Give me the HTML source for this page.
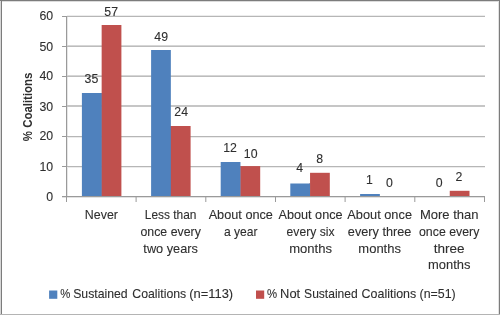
<!DOCTYPE html>
<html><head><meta charset="utf-8"><style>
html,body{margin:0;padding:0;background:#fff;width:500px;height:315px;overflow:hidden}
svg{display:block}
text{font-family:"Liberation Sans", sans-serif;fill:#2e2e2e;stroke:#2e2e2e;stroke-width:0.1px}
</style></head><body>
<svg width="500" height="315" viewBox="0 0 500 315">
<defs><filter id="tb" x="-5%" y="-5%" width="110%" height="110%"><feGaussianBlur stdDeviation="0.3"/></filter></defs>
<rect x="0" y="0" width="500" height="315" fill="#fff"/>
<rect x="0" y="0" width="1" height="315" fill="#d6d6d6"/>
<rect x="0" y="1" width="500" height="1" fill="#dcdcdc"/>
<rect x="498" y="0" width="1" height="315" fill="#e2e2e2"/>
<rect x="1" y="0" width="1" height="315" fill="#7c7c7c"/>
<rect x="0" y="0" width="500" height="1" fill="#7c7c7c"/>
<rect x="499" y="0" width="1" height="315" fill="#7c7c7c"/>
<rect x="0" y="314" width="500" height="1" fill="#b4b4b4"/>
<rect x="67" y="16" width="1" height="181" fill="#e6e6e6"/>
<rect x="67" y="15" width="418" height="1" fill="#ececec"/>
<rect x="67" y="16" width="418" height="1" fill="#b6b6b6"/>
<rect x="67" y="45" width="418" height="1" fill="#d6d6d6"/>
<rect x="67" y="46" width="418" height="1" fill="#bcbcbc"/>
<rect x="67" y="75" width="418" height="1" fill="#d6d6d6"/>
<rect x="67" y="76" width="418" height="1" fill="#bcbcbc"/>
<rect x="67" y="105" width="418" height="1" fill="#c6c6c6"/>
<rect x="67" y="106" width="418" height="1" fill="#c6c6c6"/>
<rect x="67" y="136" width="418" height="1" fill="#b6b6b6"/>
<rect x="67" y="137" width="418" height="1" fill="#ececec"/>
<rect x="67" y="166" width="418" height="1" fill="#b6b6b6"/>
<rect x="67" y="167" width="418" height="1" fill="#ececec"/>
<rect x="101.65" y="25" width="19.75" height="171.00" fill="#C0504D"/>
<rect x="100.65" y="93" width="1.2" height="103.00" fill="#C0504D"/>
<rect x="81.90" y="93" width="19.75" height="103.00" fill="#4F81BD"/>
<rect x="170.85" y="126" width="19.75" height="70.00" fill="#C0504D"/>
<rect x="169.85" y="126" width="1.2" height="70.00" fill="#C0504D"/>
<rect x="151.10" y="50" width="19.75" height="146.00" fill="#4F81BD"/>
<rect x="240.45" y="166.1" width="19.75" height="29.90" fill="#C0504D"/>
<rect x="239.45" y="166.1" width="1.2" height="29.90" fill="#C0504D"/>
<rect x="220.70" y="162" width="19.75" height="34.00" fill="#4F81BD"/>
<rect x="310.05" y="172.8" width="19.75" height="23.20" fill="#C0504D"/>
<rect x="309.05" y="183.5" width="1.2" height="12.50" fill="#C0504D"/>
<rect x="290.30" y="183.5" width="19.75" height="12.50" fill="#4F81BD"/>
<rect x="360.10" y="194" width="19.75" height="2.00" fill="#4F81BD"/>
<rect x="449.75" y="190.8" width="19.75" height="5.20" fill="#C0504D"/>
<rect x="66" y="16" width="1" height="181" fill="#9a9a9a"/>
<rect x="62" y="196" width="423" height="1" fill="#9a9a9a"/>
<rect x="62" y="197" width="423" height="1" fill="#e2e2e2"/>
<rect x="62" y="16" width="4" height="1" fill="#9a9a9a"/>
<rect x="62" y="46" width="4" height="1" fill="#9a9a9a"/>
<rect x="62" y="76" width="4" height="1" fill="#9a9a9a"/>
<rect x="62" y="106" width="4" height="1" fill="#9a9a9a"/>
<rect x="62" y="136" width="4" height="1" fill="#9a9a9a"/>
<rect x="62" y="166" width="4" height="1" fill="#9a9a9a"/>
<rect x="66.0" y="196" width="1" height="6" fill="#9a9a9a"/>
<rect x="135.6" y="196" width="1" height="6" fill="#9a9a9a"/>
<rect x="205.3" y="196" width="1" height="6" fill="#9a9a9a"/>
<rect x="275.0" y="196" width="1" height="6" fill="#9a9a9a"/>
<rect x="344.6" y="196" width="1" height="6" fill="#9a9a9a"/>
<rect x="414.3" y="196" width="1" height="6" fill="#9a9a9a"/>
<rect x="484.0" y="196" width="1" height="6" fill="#9a9a9a"/>
<g filter="url(#tb)">
<text x="53.2" y="201.0" text-anchor="end" font-size="12.3">0</text>
<text x="53.2" y="171.0" text-anchor="end" font-size="12.3">10</text>
<text x="53.2" y="140.3" text-anchor="end" font-size="12.3">20</text>
<text x="53.2" y="110.8" text-anchor="end" font-size="12.3">30</text>
<text x="53.2" y="80.3" text-anchor="end" font-size="12.3">40</text>
<text x="53.2" y="51.0" text-anchor="end" font-size="12.3">50</text>
<text x="53.2" y="20.3" text-anchor="end" font-size="12.3">60</text>
<text x="91.4" y="83.1" text-anchor="middle" font-size="12.3">35</text>
<text x="111.2" y="15.8" text-anchor="middle" font-size="12.3">57</text>
<text x="161.2" y="40.8" text-anchor="middle" font-size="12.3">49</text>
<text x="181.2" y="115.8" text-anchor="middle" font-size="12.3">24</text>
<text x="230.1" y="152" text-anchor="middle" font-size="12.3">12</text>
<text x="250.65" y="157.8" text-anchor="middle" font-size="12.3">10</text>
<text x="299.75" y="172.2" text-anchor="middle" font-size="12.3">4</text>
<text x="319.7" y="162.8" text-anchor="middle" font-size="12.3">8</text>
<text x="369.5" y="183.8" text-anchor="middle" font-size="12.3">1</text>
<text x="389.3" y="186.6" text-anchor="middle" font-size="12.3">0</text>
<text x="439.2" y="187" text-anchor="middle" font-size="12.3">0</text>
<text x="459" y="181" text-anchor="middle" font-size="12.3">2</text>
<text x="101.40" y="218.7" text-anchor="middle" font-size="13" textLength="33.1" lengthAdjust="spacingAndGlyphs">Never</text>
<text x="170.65" y="218.7" text-anchor="middle" font-size="13" textLength="51.7" lengthAdjust="spacingAndGlyphs">Less than</text>
<text x="170.65" y="235.8" text-anchor="middle" font-size="13" textLength="60.3" lengthAdjust="spacingAndGlyphs">once every</text>
<text x="170.65" y="252.7" text-anchor="middle" font-size="13" textLength="54.6" lengthAdjust="spacingAndGlyphs">two years</text>
<text x="240.80" y="218.7" text-anchor="middle" font-size="13" textLength="64.3" lengthAdjust="spacingAndGlyphs">About once</text>
<text x="240.80" y="235.8" text-anchor="middle" font-size="13" textLength="33.6" lengthAdjust="spacingAndGlyphs">a year</text>
<text x="310.55" y="218.7" text-anchor="middle" font-size="13" textLength="64.1" lengthAdjust="spacingAndGlyphs">About once</text>
<text x="310.55" y="235.8" text-anchor="middle" font-size="13" textLength="47.9" lengthAdjust="spacingAndGlyphs">every six</text>
<text x="310.55" y="252.7" text-anchor="middle" font-size="13" textLength="42.8" lengthAdjust="spacingAndGlyphs">months</text>
<text x="379.65" y="218.7" text-anchor="middle" font-size="13" textLength="64.7" lengthAdjust="spacingAndGlyphs">About once</text>
<text x="379.65" y="235.8" text-anchor="middle" font-size="13" textLength="63.6" lengthAdjust="spacingAndGlyphs">every three</text>
<text x="379.65" y="252.7" text-anchor="middle" font-size="13" textLength="42.6" lengthAdjust="spacingAndGlyphs">months</text>
<text x="449.20" y="218.7" text-anchor="middle" font-size="13" textLength="58.6" lengthAdjust="spacingAndGlyphs">More than</text>
<text x="449.20" y="235.8" text-anchor="middle" font-size="13" textLength="60.4" lengthAdjust="spacingAndGlyphs">once every</text>
<text x="449.20" y="252.7" text-anchor="middle" font-size="13" textLength="30.9" lengthAdjust="spacingAndGlyphs">three</text>
<text x="449.20" y="269.0" text-anchor="middle" font-size="13" textLength="42.4" lengthAdjust="spacingAndGlyphs">months</text>
<text transform="translate(32.2 106.9) rotate(-90)" text-anchor="middle" font-size="13" font-weight="bold" style="stroke-width:0" textLength="68.6" lengthAdjust="spacingAndGlyphs">% Coalitions</text>
<rect x="49.1" y="290.5" width="8.2" height="8.3" fill="#4F81BD"/>
<rect x="256" y="290.5" width="8.2" height="8.3" fill="#C0504D"/>
<text x="60.3" y="298.2" font-size="13" textLength="10.1" lengthAdjust="spacingAndGlyphs">%</text>
<text x="73.2" y="298.2" font-size="13" textLength="54.5" lengthAdjust="spacingAndGlyphs">Sustained</text>
<text x="132.3" y="298.2" font-size="13" textLength="53.9" lengthAdjust="spacingAndGlyphs">Coalitions</text>
<text x="189.2" y="298.2" font-size="13" textLength="44.0" lengthAdjust="spacingAndGlyphs">(n=113)</text>
<text x="267.1" y="298.2" font-size="13" textLength="10.1" lengthAdjust="spacingAndGlyphs">%</text>
<text x="280.1" y="298.2" font-size="13" textLength="20.1" lengthAdjust="spacingAndGlyphs">Not</text>
<text x="304.1" y="298.2" font-size="13" textLength="53.6" lengthAdjust="spacingAndGlyphs">Sustained</text>
<text x="361.6" y="298.2" font-size="13" textLength="54.6" lengthAdjust="spacingAndGlyphs">Coalitions</text>
<text x="419.6" y="298.2" font-size="13" textLength="36.1" lengthAdjust="spacingAndGlyphs">(n=51)</text>
</g>
</svg>
</body></html>
